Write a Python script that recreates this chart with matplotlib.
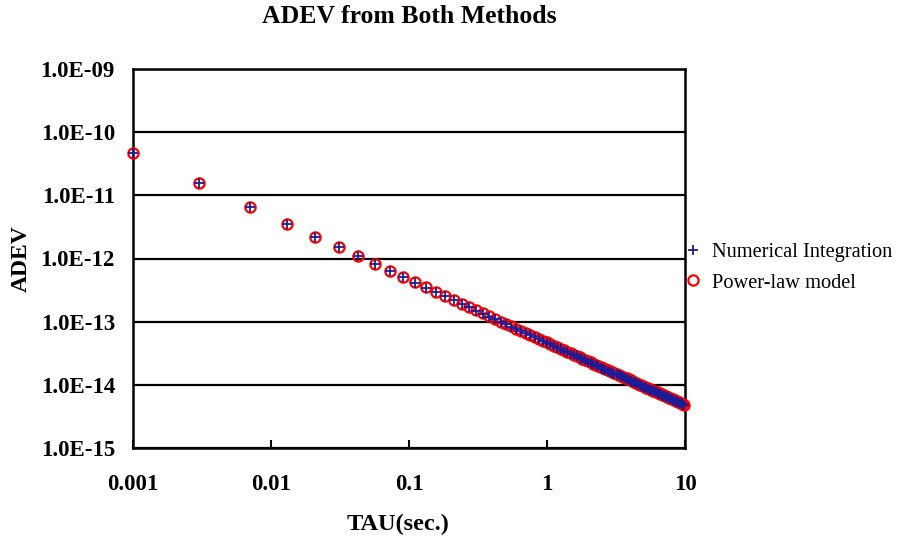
import matplotlib
matplotlib.use("Agg")
import matplotlib.pyplot as plt
from matplotlib.ticker import FixedLocator, FixedFormatter, NullLocator

tau = [0.001, 0.003, 0.007, 0.013, 0.021, 0.031, 0.043, 0.057, 0.073, 0.091,
       0.111, 0.133, 0.157, 0.183, 0.211, 0.241, 0.273, 0.307, 0.343, 0.381,
       0.421, 0.463, 0.507, 0.553, 0.601, 0.651, 0.703, 0.757, 0.813, 0.871,
       0.931, 0.993, 1.057, 1.123, 1.191, 1.261, 1.333, 1.407, 1.483, 1.561,
       1.641, 1.723, 1.807, 1.893, 1.981, 2.071, 2.163, 2.257, 2.353, 2.451,
       2.551, 2.653, 2.757, 2.863, 2.971, 3.081, 3.193, 3.307, 3.423, 3.541,
       3.661, 3.783, 3.907, 4.033, 4.161, 4.291, 4.423, 4.557, 4.693, 4.831,
       4.971, 5.113, 5.257, 5.403, 5.551, 5.701, 5.853, 6.007, 6.163, 6.321,
       6.481, 6.643, 6.807, 6.973, 7.141, 7.311, 7.483, 7.657, 7.833, 8.011,
       8.191, 8.373, 8.557, 8.743, 8.931, 9.121, 9.313, 9.507, 9.703, 9.901]

# ADEV in units of 1e-15
adev_power_law = [46500, 15500, 6643, 3577, 2214, 1500, 1081, 815.8, 637.0, 511.0,
                  418.9, 349.6, 296.2, 254.1, 220.4, 192.9, 170.3, 151.5, 135.6, 122.0,
                  110.5, 100.4, 91.7, 84.1, 77.4, 71.4, 66.1, 61.4, 57.2, 53.4,
                  49.9, 46.8, 44.5, 41.9, 39.5, 37.3, 35.3, 33.4, 31.7, 30.1,
                  28.6, 27.3, 26.0, 24.8, 23.7, 22.7, 21.7, 20.8, 20.0, 19.2,
                  18.4, 17.7, 17.0, 16.4, 15.8, 15.4, 14.9, 14.4, 13.9, 13.4,
                  13.0, 12.6, 12.2, 11.8, 11.4, 11.1, 10.7, 10.4, 10.1, 9.83,
                  9.56, 9.29, 9.04, 8.79, 8.56, 8.33, 8.12, 7.99, 7.79, 7.59,
                  7.41, 7.23, 7.05, 6.88, 6.72, 6.57, 6.41, 6.27, 6.13, 5.99,
                  5.86, 5.73, 5.61, 5.49, 5.37, 5.26, 5.15, 5.05, 4.95, 4.85]

adev_numerical = [46500, 15500, 6640, 3575, 2212, 1498, 1079, 813.5, 634.5, 508.5,
                  416.5, 347.0, 293.5, 251.5, 218.0, 190.5, 168.0, 149.3, 133.6, 120.0,
                  108.7, 98.8, 90.2, 82.6, 76.0, 70.2, 65.0, 60.4, 56.2, 52.5,
                  49.0, 46.0, 43.7, 41.1, 38.8, 36.6, 34.6, 32.8, 31.1, 29.6,
                  28.1, 26.8, 25.5, 24.4, 23.3, 22.3, 21.3, 20.4, 19.6, 18.8,
                  18.1, 17.4, 16.7, 16.1, 15.5, 15.1, 14.6, 14.1, 13.6, 13.2,
                  12.8, 12.4, 12.0, 11.6, 11.2, 10.9, 10.5, 10.2, 9.92, 9.66,
                  9.39, 9.13, 8.88, 8.64, 8.41, 8.19, 7.98, 7.85, 7.66, 7.46,
                  7.28, 7.10, 6.93, 6.77, 6.61, 6.46, 6.31, 6.17, 6.03, 5.90,
                  5.77, 5.64, 5.52, 5.41, 5.29, 5.18, 5.08, 4.98, 4.88, 4.78]

x_ticks = [0.001, 0.01, 0.1, 1, 10]
x_tick_labels = ["0.001", "0.01", "0.1", "1", "10"]
y_ticks = [1e-15, 1e-14, 1e-13, 1e-12, 1e-11, 1e-10, 1e-9]
y_tick_labels = ["1.0E-15", "1.0E-14", "1.0E-13", "1.0E-12", "1.0E-11", "1.0E-10", "1.0E-09"]

plt.rcParams["font.family"] = ["Liberation Serif", "DejaVu Serif"]

fig = plt.figure(figsize=(8.99, 5.38), dpi=100)
ax = fig.add_axes([133/899, 1 - 448/538, (685 - 133)/899, (448 - 69)/538])

unit = 1e-15
ax.plot(tau, [v * unit for v in adev_numerical], linestyle="none", marker="+",
        markersize=6.5, markeredgewidth=1.3, color="#1c1c96", label="Numerical Integration",
        zorder=5, clip_on=False)
ax.plot(tau, [v * unit for v in adev_power_law], linestyle="none", marker="o",
        markersize=7.4, markeredgewidth=1.6, markerfacecolor="none", markeredgecolor="#ff0000",
        label="Power-law model", zorder=4, clip_on=False)

ax.set_xscale("log")
ax.set_yscale("log")
ax.set_xlim(0.001, 10)
ax.set_ylim(1e-15, 1e-9)

ax.xaxis.set_major_locator(FixedLocator(x_ticks))
ax.xaxis.set_major_formatter(FixedFormatter(x_tick_labels))
ax.xaxis.set_minor_locator(NullLocator())
ax.yaxis.set_major_locator(FixedLocator(y_ticks))
ax.yaxis.set_major_formatter(FixedFormatter(y_tick_labels))
ax.yaxis.set_minor_locator(NullLocator())

ax.tick_params(axis="x", direction="in", length=6, width=1.5, pad=18.5, labelsize=16.5)
ax.tick_params(axis="y", length=0, pad=13, labelsize=16.5)
for lab in ax.get_xticklabels() + ax.get_yticklabels():
    lab.set_fontweight("bold")

ax.yaxis.grid(True, color="black", linewidth=1.6)
ax.set_axisbelow(True)
for sp in ax.spines.values():
    sp.set_linewidth(1.8)
    sp.set_color("black")

ax.set_title("ADEV from Both Methods", fontsize=18.5, fontweight="bold", pad=33)
ax.set_xlabel("TAU(sec.)", fontsize=17.5, fontweight="bold", labelpad=13.5, x=0.48)
ax.set_ylabel("ADEV", fontsize=17, fontweight="bold", labelpad=6)

ax.legend(loc="center left", bbox_to_anchor=(1.0, 0.476), frameon=False, fontsize=14.7,
          handletextpad=0.5, handlelength=0.8, borderaxespad=0.0, borderpad=0.0,
          labelspacing=0.55)

fig.savefig("out.png", dpi=100, facecolor="white")
